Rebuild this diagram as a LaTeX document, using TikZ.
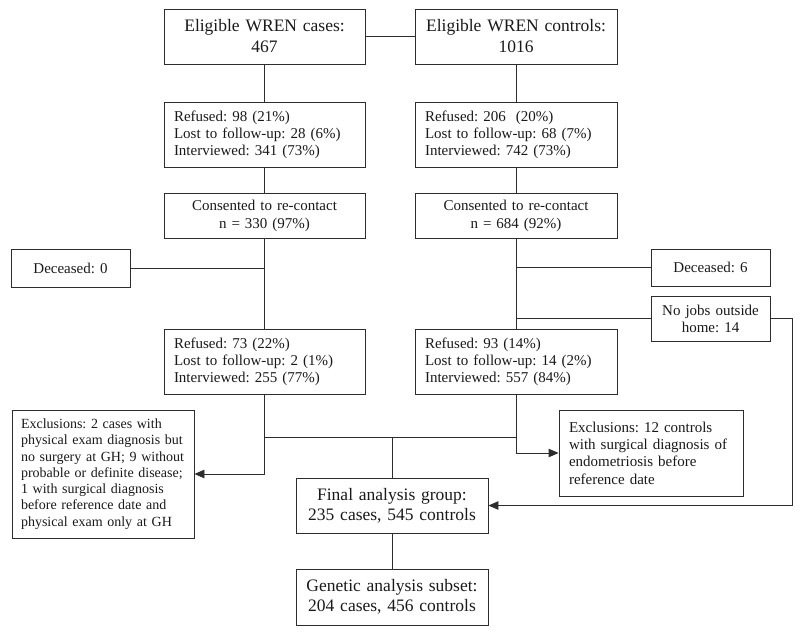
\documentclass[tikz,border=0pt]{standalone}
\usepackage{fontspec}
\setmainfont{Liberation Serif}
\usetikzlibrary{arrows.meta}
\definecolor{ln}{RGB}{45,45,45}
\definecolor{tx}{RGB}{25,25,25}
\frenchspacing
\tikzset{
  box/.style={draw=ln, line width=0.9pt, text=tx, inner ysep=0pt, inner xsep=0pt, anchor=center},
  bigbox/.style={box, font=\fontsize{17.5}{21}\selectfont, align=center},
  listbox/.style={box, font=\fontsize{15}{17}\selectfont, align=left},
  midbox/.style={box, font=\fontsize{15}{18}\selectfont, align=center},
  conn/.style={draw=ln, line width=0.9pt},
  arr/.style={conn, -{Triangle[length=10pt,width=8.5pt]}},
}
\begin{document}
\begin{tikzpicture}[x=1pt,y=-1pt]
\useasboundingbox (0,0) rectangle (800,635);
% top
\node[bigbox, minimum width=201pt, minimum height=55pt, text width=191pt] (tca) at (264.5,36.5) {\frenchspacing Eligible WREN cases:\\467};
\node[bigbox, minimum width=202pt, minimum height=55pt, text width=192pt] (tco) at (516,36.5) {\frenchspacing Eligible WREN controls:\\1016};
% first refusal
\node[listbox, minimum width=201pt, minimum height=65pt, text width=181pt] (rca) at (264.5,134.5) {\frenchspacing Refused: 98 (21\%)\\Lost to follow-up: 28 (6\%)\\Interviewed: 341 (73\%)};
\node[listbox, minimum width=202pt, minimum height=65pt, text width=182pt] (rco) at (516,134.5) {\frenchspacing Refused: 206\ \ (20\%)\\Lost to follow-up: 68 (7\%)\\Interviewed: 742 (73\%)};
% consent
\node[midbox, minimum width=201pt, minimum height=45pt, text width=191pt] (cca) at (264.5,215.5) {\frenchspacing Consented to re-contact\\n = 330 (97\%)};
\node[midbox, minimum width=202pt, minimum height=45pt, text width=192pt] (cco) at (516,215.5) {\frenchspacing Consented to re-contact\\n = 684 (92\%)};
% side boxes
\node[midbox, minimum width=119pt, minimum height=38pt, text width=111pt] (d0) at (70.5,268) {\frenchspacing Deceased: 0};
\node[midbox, minimum width=119pt, minimum height=37pt, text width=111pt] (d6) at (710.5,267.5) {\frenchspacing Deceased: 6};
\node[midbox, font=\fontsize{15}{17}\selectfont, minimum width=119pt, minimum height=45pt, text width=111pt] (nj) at (710.5,318.5) {\frenchspacing No jobs outside\\home: 14};
% second refusal
\node[listbox, minimum width=201pt, minimum height=65pt, text width=181pt] (r2a) at (264.5,361.5) {\frenchspacing Refused: 73 (22\%)\\Lost to follow-up: 2 (1\%)\\Interviewed: 255 (77\%)};
\node[listbox, minimum width=202pt, minimum height=65pt, text width=182pt] (r2o) at (516,361.5) {\frenchspacing Refused: 93 (14\%)\\Lost to follow-up: 14 (2\%)\\Interviewed: 557 (84\%)};
% exclusions
\node[box, font=\fontsize{14}{16.3}\selectfont, align=left, minimum width=182pt, minimum height=128pt, text width=164pt] (exl) at (103,474) {\frenchspacing Exclusions: 2 cases with\\physical exam diagnosis but\\no surgery at GH; 9 without\\probable or definite disease;\\1 with surgical diagnosis\\before reference date and\\physical exam only at GH};
\node[box, font=\fontsize{15}{17.3}\selectfont, align=left, minimum width=184pt, minimum height=86pt, text width=164pt] (exr) at (651,453) {\frenchspacing Exclusions: 12 controls\\with surgical diagnosis of\\endometriosis before\\reference date};
% final
\node[box, font=\fontsize{17.5}{20}\selectfont, align=center, minimum width=192pt, minimum height=55pt, text width=184pt] (fin) at (392,505.5) {\frenchspacing Final analysis group:\\235 cases, 545 controls};
\node[box, font=\fontsize{17.5}{20}\selectfont, align=center, minimum width=192pt, minimum height=56pt, text width=184pt] (gen) at (392,597) {\frenchspacing Genetic analysis subset:\\204 cases, 456 controls};
% coordinates
\coordinate (ja) at (r2a.south |- exl.east);
\coordinate (jo) at (r2o.south |- exr.west);
\coordinate (hl) at (r2a.south |- 0,437);
\coordinate (hr) at (r2o.south |- 0,437);
\coordinate (hm) at (fin.north |- 0,437);
\coordinate (nr) at (792,318.5);
% connectors
\draw[conn] (tca.east) -- (tco.west);
\draw[conn] (tca.south) -- (rca.north);
\draw[conn] (rca.south) -- (cca.north);
\draw[conn] (cca.south) -- (r2a.north);
\draw[conn] (tco.south) -- (rco.north);
\draw[conn] (rco.south) -- (cco.north);
\draw[conn] (cco.south) -- (r2o.north);
\draw[conn] (d0.east) -- (d0.east -| cca.south);
\draw[conn] (d6.west) -- (d6.west -| cco.south);
\draw[conn] (nj.west) -- (nj.west -| cco.south);
\draw[arr] (nj.east) -- (nr) -- (nr |- fin.east) -- (fin.east);
\draw[arr] (r2a.south) -- (ja) -- (exl.east);
\draw[arr] (r2o.south) -- (jo) -- (exr.west);
\draw[conn] (hl) -- (hr);
\draw[conn] (hm) -- (fin.north);
\draw[conn] (fin.south) -- (gen.north);
\end{tikzpicture}
\end{document}
